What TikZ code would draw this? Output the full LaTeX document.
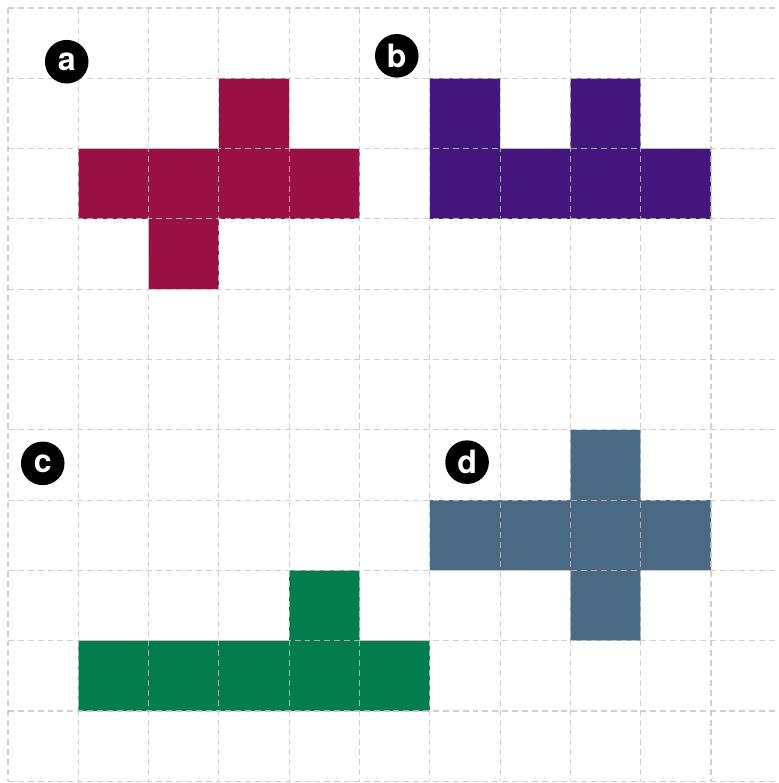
\documentclass[tikz,border=0pt]{standalone}
\usepackage{fontspec}
\setmainfont{TeX Gyre Heros}
\definecolor{cra}{HTML}{9B1042}
\definecolor{crb}{HTML}{46167F}
\definecolor{crc}{HTML}{037D4E}
\definecolor{crd}{HTML}{4A6984}
\definecolor{gridc}{HTML}{C4C4C4}
\tikzset{
  gridline/.style={draw=gridc, opacity=0.8, line width=0.45pt, dash pattern=on 2.4pt off 1.6pt},
  tag/.style={circle, fill=black, text=white, minimum size=0.62cm, inner sep=0pt, font=\fontsize{13}{15}\selectfont\bfseries}
}
\begin{document}
\begin{tikzpicture}[x=1cm,y=-1cm]
\useasboundingbox (-0.114,-0.114) rectangle (10.953,11.024);
% shapes
\fill[cra] (3,1)--(4,1)--(4,2)--(5,2)--(5,3)--(3,3)--(3,4)--(2,4)--(2,3)--(1,3)--(1,2)--(3,2)--cycle;
\fill[crb] (6,1)--(7,1)--(7,2)--(8,2)--(8,1)--(9,1)--(9,2)--(10,2)--(10,3)--(6,3)--cycle;
\fill[crc] (4,8)--(5,8)--(5,9)--(6,9)--(6,10)--(1,10)--(1,9)--(4,9)--cycle;
\fill[crd] (8,6)--(9,6)--(9,7)--(10,7)--(10,8)--(9,8)--(9,9)--(8,9)--(8,8)--(6,8)--(6,7)--(8,7)--cycle;
% grid
\foreach \i in {0,...,10} \draw[gridline] (\i,0) -- (\i,11);
\foreach \j in {0,...,11} \draw[gridline] (0,\j) -- (10.953,\j);
% labels
\node[tag] (la) at (0.835,0.764) {a};
\node[tag] (lb) at (5.53,0.68) {b};
\node[tag] (lc) at (0.494,6.477) {c};
\node[tag] (ld) at (6.53,6.46) {d};
\end{tikzpicture}
\end{document}
